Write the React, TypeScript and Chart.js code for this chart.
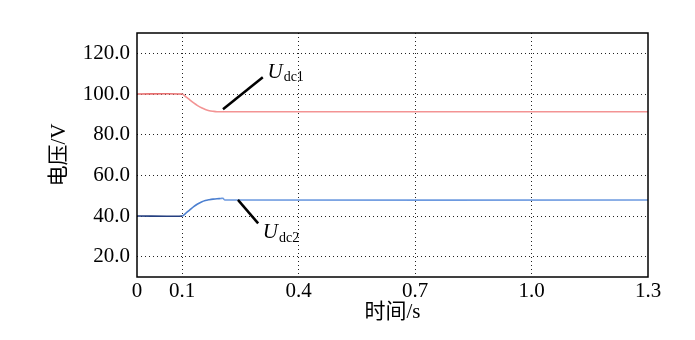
import React, { useEffect, useRef } from "react";
import { Chart, registerables } from "chart.js";
Chart.register(...registerables);

// ---- data ----
const X_MIN = -0.016;
const X_MAX = 1.3;
const Y_MIN = 10;
const Y_MAX = 130;
const xTickValues = [0, 0.1, 0.4, 0.7, 1.0, 1.3];
const xTickLabels = ["0", "0.1", "0.4", "0.7", "1.0", "1.3"];
const yTickValues = [20, 40, 60, 80, 100, 120];

const udc1Time = [X_MIN, 0.1, 0.11, 0.12, 0.13, 0.14, 0.15, 0.16, 0.17, 0.18, 0.19, 1.3];
const udc1Values = [100, 100, 98.6, 97.1, 95.6, 94.3, 93.2, 92.4, 91.8, 91.5, 91.3, 91.3];

const udc2Time = [X_MIN, 0.1, 0.11, 0.12, 0.13, 0.14, 0.15, 0.16, 0.17, 0.18, 0.19, 0.2, 0.205, 0.21, 1.3];
const udc2Values = [40, 40, 41.4, 43.0, 44.6, 45.9, 46.9, 47.6, 48.0, 48.3, 48.5, 48.6, 48.7, 47.9, 47.9];

// annotation leader lines (data coords) and label anchors
const udc1Leader = [[0.2055, 92.5], [0.308, 108.2]];
const udc1LabelAnchor = [0.32, 107.9];
const udc2Leader = [[0.244, 47.9], [0.296, 36.4]];
const udc2LabelAnchor = [0.308, 29.3];

const SERIF = '"Liberation Serif", "Times New Roman", serif';
const CJK = '"Liberation Serif", "Noto Sans CJK SC", serif';

const annotationPlugin = {
  id: "annots",
  afterDatasetsDraw(chart: any) {
    const { ctx, chartArea, scales } = chart;
    const xs = scales.x;
    const ys = scales.y;
    ctx.save();
    // frame
    ctx.strokeStyle = "#000";
    ctx.lineWidth = 1.5;
    ctx.strokeRect(chartArea.left, chartArea.top, chartArea.right - chartArea.left, chartArea.bottom - chartArea.top);

    const drawLeader = (pts: number[][]) => {
      ctx.beginPath();
      ctx.strokeStyle = "#000";
      ctx.lineWidth = 2.5;
      ctx.moveTo(xs.getPixelForValue(pts[0][0]), ys.getPixelForValue(pts[0][1]));
      ctx.lineTo(xs.getPixelForValue(pts[1][0]), ys.getPixelForValue(pts[1][1]));
      ctx.stroke();
    };
    drawLeader(udc1Leader);
    drawLeader(udc2Leader);

    const drawLabel = (anchor: number[], sub: string, subDrop: number) => {
      const x = xs.getPixelForValue(anchor[0]);
      const y = ys.getPixelForValue(anchor[1]);
      ctx.fillStyle = "#000";
      ctx.textBaseline = "alphabetic";
      ctx.textAlign = "left";
      ctx.font = `italic 21px ${SERIF}`;
      ctx.fillText("U", x, y);
      const w = ctx.measureText("U").width;
      ctx.font = `14px ${SERIF}`;
      ctx.fillText(sub, x + w + 1, y + subDrop);
    };
    drawLabel(udc1LabelAnchor, "dc1", 3);
    drawLabel(udc2LabelAnchor, "dc2", 4.5);
    ctx.restore();
  },
};

export default function App() {
  const ref = useRef<HTMLCanvasElement>(null);
  useEffect(() => {
    if (!ref.current) return;
    const chart = new Chart(ref.current, {
      type: "line",
      data: {
        datasets: [
          {
            label: "Udc1",
            data: udc1Time.map((t, i) => ({ x: t, y: udc1Values[i] })),
            borderColor: "#f08a8a",
            borderWidth: 1.6,
            pointRadius: 0,
            tension: 0.3,
            segment: {
              borderColor: (c: any) => (c.p0.parsed.x < 0.1 ? "#e86f6f" : "#f39494"),
            },
          },
          {
            label: "Udc2",
            data: udc2Time.map((t, i) => ({ x: t, y: udc2Values[i] })),
            borderColor: "#5b8ad6",
            borderWidth: 1.6,
            pointRadius: 0,
            tension: 0.3,
            segment: {
              borderColor: (c: any) => (c.p0.parsed.x < 0.1 ? "#243f80" : c.p0.parsed.x >= 0.2 ? "#6d9ae0" : "#4b7fd0"),
            },
          },
        ],
      },
      options: {
        animation: false,
        responsive: false,
        maintainAspectRatio: false,
        layout: { padding: { top: 33, right: 47, left: 0, bottom: 0 } },
        plugins: { legend: { display: false }, tooltip: { enabled: false } },
        scales: {
          x: {
            type: "linear",
            min: X_MIN,
            max: X_MAX,
            afterBuildTicks: (scale: any) => {
              scale.ticks = xTickValues.map((v) => ({ value: v === 0 ? X_MIN : v }));
            },
            afterFit: (scale: any) => {
              scale.height = 63;
            },
            ticks: {
              autoSkip: false,
              maxRotation: 0,
              padding: 2,
              color: "#000",
              font: { family: SERIF, size: 21 },
              callback: (_v: any, i: number) => xTickLabels[i],
            },
            grid: {
              drawTicks: false,
              color: (c: any) =>
                c.tick && (c.tick.value <= X_MIN + 1e-6 || c.tick.value >= X_MAX - 1e-6) ? "rgba(0,0,0,0)" : "#222",
              lineWidth: 1,
            },
            border: { display: false, dash: [1, 3] },
            title: {
              display: true,
              text: "时间/s",
              color: "#000",
              font: { family: CJK, size: 21 },
              padding: { top: 0, bottom: 15 },
            },
          },
          y: {
            type: "linear",
            min: Y_MIN,
            max: Y_MAX,
            afterBuildTicks: (scale: any) => {
              scale.ticks = yTickValues.map((v) => ({ value: v }));
            },
            afterFit: (scale: any) => {
              scale.width = 137;
            },
            ticks: {
              padding: 7,
              color: "#000",
              font: { family: SERIF, size: 21 },
              callback: (v: any) => Number(v).toFixed(1),
            },
            grid: { drawTicks: false, color: "#222", lineWidth: 1 },
            border: { display: false, dash: [1, 3] },
            title: {
              display: true,
              text: "电压/V",
              color: "#000",
              font: { family: CJK, size: 21 },
              padding: { top: 47, bottom: 0 },
            },
          },
        },
      },
      plugins: [annotationPlugin],
    });
    return () => chart.destroy();
  }, []);
  return (
    <div style={{ position: "absolute", left: 0, top: 0, width: 695, height: 340, background: "#fff" }}>
      <canvas ref={ref} width={695} height={340} style={{ width: 695, height: 340, display: "block" }} />
    </div>
  );
}
